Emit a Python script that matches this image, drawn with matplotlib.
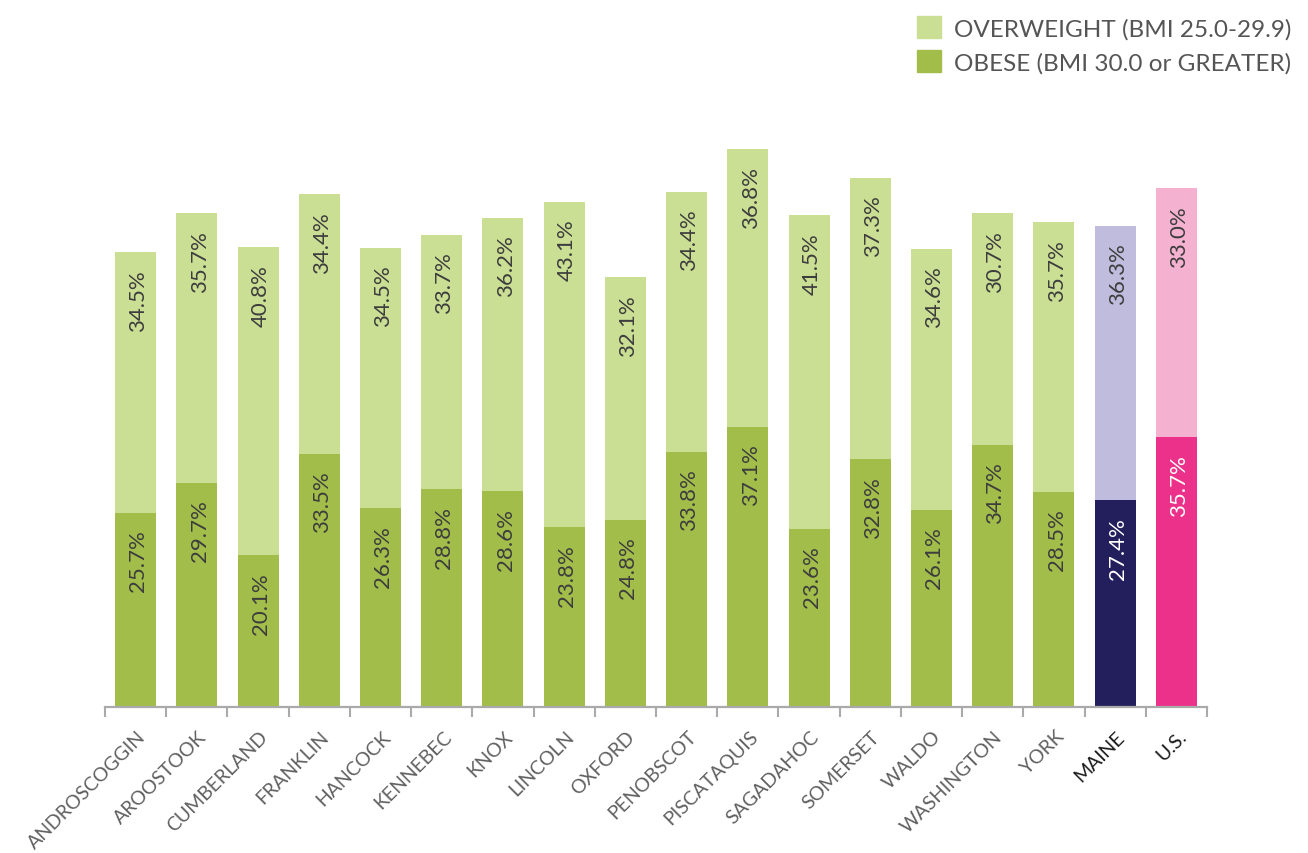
import matplotlib
matplotlib.use('Agg')
import matplotlib.pyplot as plt
import numpy as np
from matplotlib.patches import Patch

categories = ['ANDROSCOGGIN', 'AROOSTOOK', 'CUMBERLAND', 'FRANKLIN', 'HANCOCK',
              'KENNEBEC', 'KNOX', 'LINCOLN', 'OXFORD', 'PENOBSCOT', 'PISCATAQUIS',
              'SAGADAHOC', 'SOMERSET', 'WALDO', 'WASHINGTON', 'YORK', 'MAINE', 'U.S.']
obese = [25.7, 29.7, 20.1, 33.5, 26.3, 28.8, 28.6, 23.8, 24.8, 33.8, 37.1,
         23.6, 32.8, 26.1, 34.7, 28.5, 27.4, 35.7]
overweight = [34.5, 35.7, 40.8, 34.4, 34.5, 33.7, 36.2, 43.1, 32.1, 34.4, 36.8,
              41.5, 37.3, 34.6, 30.7, 35.7, 36.3, 33.0]

# colours: counties green, Maine purple, U.S. pink
obese_col = ['#a2bd4a'] * 16 + ['#231f5c', '#ec318a']
over_col = ['#cbdf94'] * 16 + ['#c0bcdd', '#f5b1d0']
obese_txt = ['#3d3d3d'] * 16 + ['white', 'white']
tick_col = ['#606060'] * 16 + ['#1a1a1a', '#1a1a1a']

plt.rcParams['font.family'] = ['Lato', 'DejaVu Sans']

fig = plt.figure(figsize=(13.08, 8.54), dpi=100)
ax = fig.add_axes([105 / 1308, 1 - 708 / 854, 1102 / 1308, 608 / 854])

x = np.arange(len(categories))
ax.bar(x, obese, width=0.67, color=obese_col)
ax.bar(x, overweight, width=0.67, bottom=obese, color=over_col)

ax.set_xlim(-0.5, len(categories) - 0.5)
ax.set_ylim(0, 80.5)

# value labels, rotated, just under each segment's top
for i in x:
    ax.annotate(f'{obese[i]:.1f}%', xy=(i, obese[i]), xytext=(2, -12),
                textcoords='offset points', rotation=90, ha='center', va='top',
                fontsize=16, color=obese_txt[i])
    top = obese[i] + overweight[i]
    ax.annotate(f'{overweight[i]:.1f}%', xy=(i, top), xytext=(2, -12),
                textcoords='offset points', rotation=90, ha='center', va='top',
                fontsize=16, color='#3d3d3d')

# category names at 45 degrees
for i in x:
    ax.annotate(categories[i], xy=(i, 0), xycoords=('data', 'axes fraction'),
                xytext=(5, -19), textcoords='offset points', rotation=45,
                rotation_mode='anchor', ha='right', va='center', fontsize=14,
                color=tick_col[i])

ax.set_xticks(np.arange(-0.5, len(categories), 1))
ax.set_xticklabels([])
ax.set_yticks([])
ax.tick_params(axis='x', direction='out', length=7, width=1.5, colors='#aaaaaa')
for s in ['top', 'right', 'left']:
    ax.spines[s].set_visible(False)
ax.spines['bottom'].set_color('#aaaaaa')
ax.spines['bottom'].set_linewidth(1.6)

handles = [Patch(color='#cbdf94', label='OVERWEIGHT (BMI 25.0-29.9)'),
           Patch(color='#a2bd4a', label='OBESE (BMI 30.0 or GREATER)')]
fig.legend(handles=handles, loc='upper right', bbox_to_anchor=(1.0, 1.0),
           frameon=False, fontsize=17.5, handlelength=1.0, handleheight=1.0,
           handletextpad=0.5, labelspacing=0.45, labelcolor='#555555',
           borderaxespad=0.3)

fig.savefig('out.png', dpi=100)
